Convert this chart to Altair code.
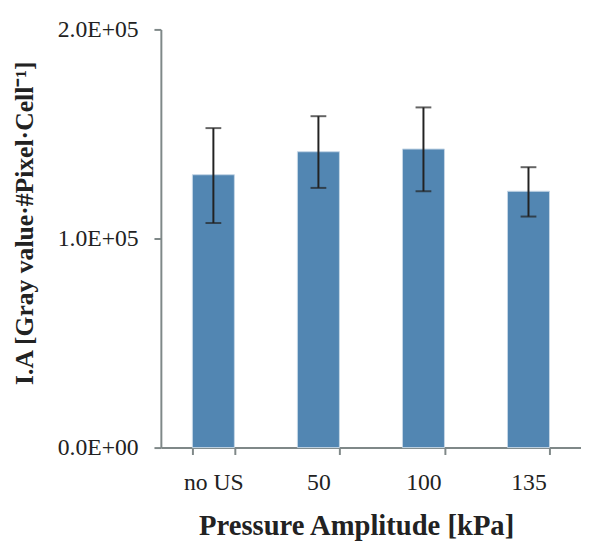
import altair as alt
import pandas as pd

categories = ["no US", "50", "100", "135"]
means = [130500, 141500, 142800, 122600]
err_low = [107400, 124200, 122600, 110500]
err_high = [152800, 158500, 162700, 134100]

df = pd.DataFrame({"cat": categories, "mean": means, "lo": err_low, "hi": err_high})

FONT = "Liberation Serif"
AX = "#7f8888"
TXT = "#222222"

x = alt.X("cat:N", sort=categories, title="Pressure Amplitude [kPa]",
          scale=alt.Scale(paddingInner=0.6, paddingOuter=0.3),
          axis=alt.Axis(labelAngle=0, tickBand="extent", domainColor=AX, tickColor=AX,
                        domainWidth=2, tickWidth=2, tickSize=7, labelPadding=17,
                        titlePadding=17, labelFont=FONT, titleFont=FONT,
                        labelFontSize=24, titleFontSize=29, labelColor=TXT,
                        titleColor=TXT, titleFontWeight="bold", titleX=198))
y_axis = alt.Axis(values=[0, 100000, 200000], grid=False, domainColor=AX, tickColor=AX,
                  domainWidth=2, tickWidth=2, tickSize=7, labelPadding=16, titlePadding=20,
                  labelFont=FONT, titleFont=FONT, labelFontSize=24, titleFontSize=26,
                  labelColor=TXT, titleColor=TXT, titleFontWeight="bold", titleY=196,
                  labelExpr="datum.value == 0 ? '0.0E+00' : format(datum.value/100000, '.1f') + 'E+05'")

bars = alt.Chart(df).mark_bar(color="#5286b2", stroke="#c5d6e6", strokeWidth=1).encode(
    x=x,
    y=alt.Y("mean:Q", scale=alt.Scale(domain=[0, 200000]), axis=y_axis,
            title="I.A [Gray value·#Pixel·Cell⁻¹]"),
)
rules = alt.Chart(df).mark_rule(color="#222222", strokeWidth=2).encode(
    x=alt.X("cat:N", sort=categories), y="lo:Q", y2="hi:Q")
caps_hi = alt.Chart(df).mark_tick(color="#222222", thickness=2, size=16, orient="horizontal").encode(
    x=alt.X("cat:N", sort=categories), y="hi:Q")
caps_lo = alt.Chart(df).mark_tick(color="#222222", thickness=2, size=16, orient="horizontal").encode(
    x=alt.X("cat:N", sort=categories), y="lo:Q")

chart = alt.layer(bars, rules, caps_hi, caps_lo).properties(
    width=426, height=424,
    autosize=alt.AutoSizeParams(type="none"),
    padding={"left": 155, "top": 18, "right": 0, "bottom": 91},
    background="white",
).configure_view(stroke=None)

chart.save("out.html", embed_options={"renderer": "svg", "actions": False})
